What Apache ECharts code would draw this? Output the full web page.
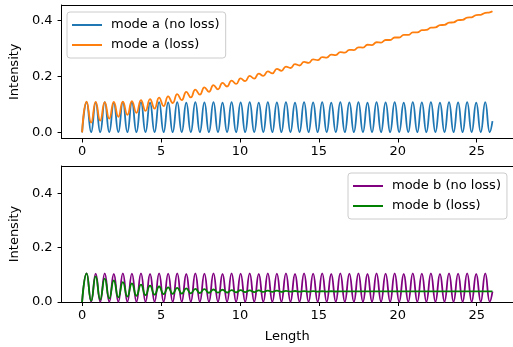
<!DOCTYPE html>
<html><head><meta charset="utf-8">
<script src="https://cdn.jsdelivr.net/npm/echarts@6.0.0/dist/echarts.min.js"></script>
<style>html,body{margin:0;padding:0;background:#fff}#c{width:513px;height:347px}</style>
</head><body><div id="c"></div><script>
const lengthX = [
0, 0.287, 0.574, 0.861, 1.148, 1.435, 1.722, 2.009, 2.296, 2.583,
2.870, 3.157, 3.444, 3.731, 4.018, 4.305, 4.592, 4.879, 5.166, 5.453,
5.740, 6.027, 6.314, 6.601, 6.888, 7.175, 7.462, 7.749, 8.036, 8.323,
8.610, 8.897, 9.184, 9.471, 9.758, 10.045, 10.332, 10.619, 10.906, 11.193,
11.480, 11.767, 12.054, 12.341, 12.628, 12.915, 13.202, 13.489, 13.776, 14.063,
14.350, 14.637, 14.924, 15.211, 15.498, 15.785, 16.072, 16.359, 16.646, 16.933,
17.220, 17.507, 17.794, 18.081, 18.368, 18.655, 18.942, 19.229, 19.516, 19.803,
20.090, 20.377, 20.664, 20.951, 21.238, 21.525, 21.812, 22.099, 22.386, 22.673,
22.960, 23.247, 23.534, 23.821, 24.108, 24.395, 24.682, 24.969, 25.256, 25.543,
25.830, 26.0];

const modeANoLoss = [
0, 0.108, 0.001, 0.107, 0.001, 0.108, 0.001, 0.106, 0.001, 0.108,
0.001, 0.107, 0.001, 0.108, 0.001, 0.106, 0.001, 0.108, 0.001, 0.107,
0.001, 0.108, 0.001, 0.106, 0.001, 0.108, 0.001, 0.107, 0.001, 0.108,
0.001, 0.106, 0.001, 0.108, 0.001, 0.107, 0.001, 0.108, 0.001, 0.106,
0.001, 0.108, 0.001, 0.107, 0.001, 0.108, 0.001, 0.106, 0.001, 0.108,
0.001, 0.107, 0.001, 0.108, 0.001, 0.106, 0.001, 0.108, 0.001, 0.107,
0.001, 0.108, 0.001, 0.106, 0.001, 0.108, 0.001, 0.107, 0.001, 0.108,
0.001, 0.106, 0.001, 0.108, 0.001, 0.107, 0.001, 0.108, 0.001, 0.106,
0.001, 0.108, 0.001, 0.107, 0.001, 0.108, 0.001, 0.106, 0.001, 0.108,
0.001, 0.040];

const modeALoss = [
0, 0.110, 0.035, 0.109, 0.042, 0.108, 0.049, 0.109, 0.056, 0.110,
0.063, 0.112, 0.070, 0.115, 0.077, 0.119, 0.085, 0.124, 0.094, 0.129,
0.105, 0.137, 0.115, 0.145, 0.125, 0.153, 0.135, 0.161, 0.145, 0.169,
0.154, 0.177, 0.164, 0.185, 0.173, 0.193, 0.183, 0.202, 0.192, 0.210,
0.202, 0.218, 0.211, 0.227, 0.220, 0.235, 0.230, 0.244, 0.239, 0.252,
0.248, 0.261, 0.258, 0.269, 0.267, 0.278, 0.276, 0.287, 0.285, 0.295,
0.294, 0.304, 0.303, 0.313, 0.312, 0.322, 0.321, 0.330, 0.330, 0.339,
0.339, 0.348, 0.348, 0.357, 0.357, 0.365, 0.366, 0.374, 0.375, 0.383,
0.384, 0.392, 0.393, 0.401, 0.402, 0.410, 0.411, 0.419, 0.420, 0.427,
0.429, 0.433];

const modeBNoLoss = [
0, 0.105, 0.001, 0.104, 0.001, 0.105, 0.001, 0.103, 0.001, 0.105,
0.001, 0.104, 0.001, 0.105, 0.001, 0.103, 0.001, 0.105, 0.001, 0.104,
0.001, 0.105, 0.001, 0.103, 0.001, 0.105, 0.001, 0.104, 0.001, 0.105,
0.001, 0.103, 0.001, 0.105, 0.001, 0.104, 0.001, 0.105, 0.001, 0.103,
0.001, 0.105, 0.001, 0.104, 0.001, 0.105, 0.001, 0.103, 0.001, 0.105,
0.001, 0.104, 0.001, 0.105, 0.001, 0.103, 0.001, 0.105, 0.001, 0.104,
0.001, 0.105, 0.001, 0.103, 0.001, 0.105, 0.001, 0.104, 0.001, 0.105,
0.001, 0.103, 0.001, 0.105, 0.001, 0.104, 0.001, 0.105, 0.001, 0.103,
0.001, 0.105, 0.001, 0.104, 0.001, 0.105, 0.001, 0.103, 0.001, 0.105,
0.001, 0.038];

const modeBLoss = [
0, 0.105, 0.004, 0.094, 0.009, 0.086, 0.013, 0.079, 0.017, 0.073,
0.020, 0.068, 0.023, 0.064, 0.025, 0.060, 0.027, 0.057, 0.029, 0.054,
0.030, 0.052, 0.031, 0.050, 0.032, 0.048, 0.033, 0.047, 0.034, 0.046,
0.0345, 0.045, 0.035, 0.044, 0.0355, 0.0435, 0.036, 0.043, 0.0365, 0.0425,
0.037, 0.042, 0.0372, 0.0415, 0.0375, 0.041, 0.0378, 0.0405, 0.038, 0.040,
0.0382, 0.0398, 0.0384, 0.0396, 0.0385, 0.0395, 0.0386, 0.0394, 0.0387, 0.0393,
0.0388, 0.0392, 0.039, 0.039, 0.039, 0.039, 0.039, 0.039, 0.039, 0.039,
0.039, 0.039, 0.039, 0.039, 0.039, 0.039, 0.039, 0.039, 0.039, 0.039,
0.039, 0.039, 0.039, 0.039, 0.039, 0.039, 0.039, 0.039, 0.039, 0.039,
0.039, 0.039];

const xTicks = [0, 5, 10, 15, 20, 25];
const yTicks = [0, 0.2, 0.4];
const seriesNames = ['mode a (no loss)', 'mode a (loss)', 'mode b (no loss)', 'mode b (loss)'];
const seriesColors = ['#1f77b4', '#ff7f0e', '#800080', '#008000'];

const FONT = 'DejaVu Sans';
const FS = 13;
const X_MIN = -1.3, X_MAX = 27.3;
const pairs = arr => lengthX.map((x, i) => [x, arr[i]]);

function xAxisFor(grid, withName) {
  return {
    type: 'value', gridIndex: grid, min: X_MIN, max: X_MAX, position: 'bottom',
    splitLine: {show: false},
    axisLine: {show: true, onZero: false, lineStyle: {color: '#000', width: 1}},
    axisTick: {show: true, inside: false, length: 4, customValues: xTicks, lineStyle: {color: '#000'}},
    axisLabel: {customValues: xTicks, margin: 7, color: '#000', fontFamily: FONT, fontSize: FS},
    name: withName ? 'Length' : '', nameLocation: 'middle', nameGap: 28,
    nameTextStyle: {color: '#000', fontFamily: FONT, fontSize: FS}
  };
}
function topFrameAxis(grid) {
  return {
    type: 'value', gridIndex: grid, min: X_MIN, max: X_MAX, position: 'top',
    splitLine: {show: false},
    axisLine: {show: true, onZero: false, lineStyle: {color: '#000', width: 1}},
    axisTick: {show: false}, axisLabel: {show: false}
  };
}
function yAxisFor(grid, min, max) {
  return {
    type: 'value', gridIndex: grid, min: min, max: max,
    splitLine: {show: false},
    axisLine: {show: true, onZero: false, lineStyle: {color: '#000', width: 1}},
    axisTick: {show: true, inside: false, length: 4, customValues: yTicks, lineStyle: {color: '#000'}},
    axisLabel: {customValues: yTicks, margin: 9, color: '#000', fontFamily: FONT, fontSize: FS,
      formatter: v => v.toFixed(1)},
    name: 'Intensity', nameLocation: 'middle', nameGap: 40,
    nameTextStyle: {color: '#000', fontFamily: FONT, fontSize: FS}
  };
}
function lineSeries(idx, data, xi, yi) {
  return {
    type: 'line', name: seriesNames[idx], data: pairs(data),
    xAxisIndex: xi, yAxisIndex: yi, showSymbol: false, symbol: 'none',
    smooth: 0.5, lineStyle: {width: 1.8, color: seriesColors[idx]},
    itemStyle: {color: seriesColors[idx]}, z: 2 + idx % 2
  };
}
const legendCommon = {
  orient: 'vertical', icon: 'rect', itemWidth: 30, itemHeight: 2, itemGap: 4,
  padding: [5, 6, 5, 5], borderColor: '#cccccc', borderWidth: 1, borderRadius: 3,
  backgroundColor: 'rgba(255,255,255,0.8)',
  textStyle: {color: '#000', fontFamily: FONT, fontSize: FS, lineHeight: 16, padding: [0, 0, 0, 4]}
};

const chart = echarts.init(document.getElementById('c'), null, {renderer: 'canvas'});
chart.setOption({
  animation: false,
  backgroundColor: '#fff',
  grid: [
    {left: 61, right: -4, top: 5, height: 133.5, show: false, containLabel: false},
    {left: 61, right: -4, top: 166, height: 136, show: false, containLabel: false}
  ],
  xAxis: [xAxisFor(0, false), topFrameAxis(0), xAxisFor(1, true), topFrameAxis(1)],
  yAxis: [yAxisFor(0, -0.0217, 0.455), yAxisFor(1, 0, 0.5)],
  legend: [
    Object.assign({}, legendCommon, {left: 67, top: 12, data: [seriesNames[0], seriesNames[1]]}),
    Object.assign({}, legendCommon, {left: 348, top: 173, data: [seriesNames[2], seriesNames[3]]})
  ],
  series: [
    lineSeries(0, modeANoLoss, 0, 0),
    lineSeries(1, modeALoss, 0, 0),
    lineSeries(2, modeBNoLoss, 2, 1),
    lineSeries(3, modeBLoss, 2, 1)
  ]
});
</script></body></html>
